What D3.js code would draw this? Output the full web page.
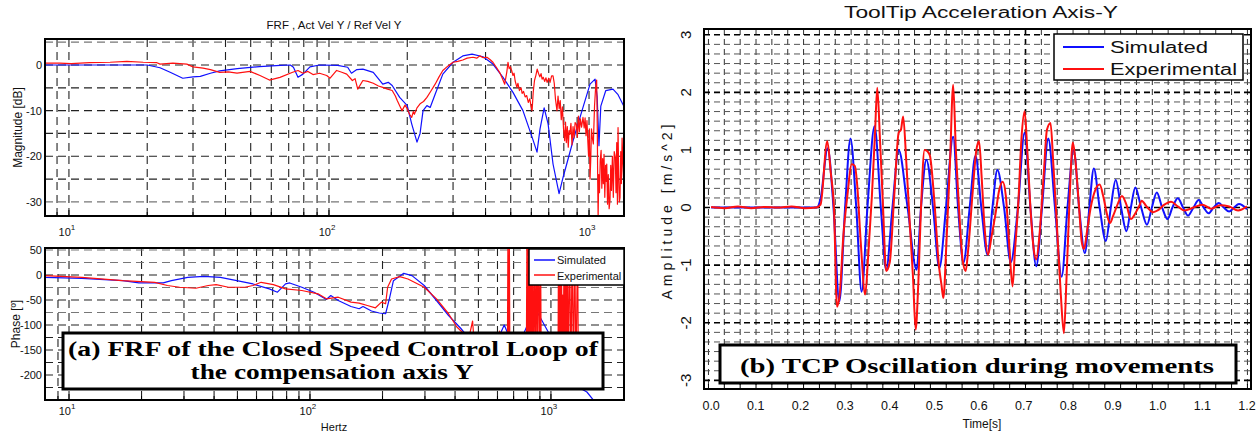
<!DOCTYPE html>
<html>
<head>
<meta charset="utf-8">
<script src="https://cdn.jsdelivr.net/npm/d3@7"></script>
<style>
  body { margin: 0; background: #fff; }
  svg { display: block; }
  text { font-family: "Liberation Sans", Arial, sans-serif; fill: #111; }
  .boxtxt { font-family: "Liberation Serif", "Times New Roman", serif; font-weight: bold; fill: #000; }
</style>
</head>
<body>
<div id="chart"></div>
<script>
// ---- FRF magnitude (Hz, dB) ----
const magSimF  = [8.1, 20, 22.4, 24.5, 27.4, 30, 32, 35, 38, 44.4, 54, 65, 71, 73, 76, 79.4, 84.5, 92, 108, 118, 122, 128, 135, 148, 161, 169, 175, 187, 200, 208, 218, 224, 230, 238, 245, 256, 274, 300, 327, 355, 391, 427, 467, 510, 557, 604, 631, 648, 672, 696, 727, 767, 795, 868, 948, 1009, 1055, 1075, 1092, 1110, 1160, 1236, 1293, 1363];
const magSimDb = [0, 0, -0.6, -1.6, -2.9, -2.6, -2.5, -1.8, -1.3, -0.8, -0.35, -0.1, 0, -0.5, -2.7, -2.0, -0.4, 0, -0.1, -0.5, -1.8, -1.0, -0.9, -1.6, -4.2, -3.8, -4.5, -7.1, -8.9, -12.9, -16.9, -15, -10, -8.9, -9.3, -6.4, -2, 0.6, 2.0, 2.4, 1.8, 0.2, -2.7, -6, -10, -15.8, -19.1, -14, -9.4, -12.9, -21.7, -28.2, -24.6, -16.6, -9.3, -4.2, -3.1, -7, -17.7, -9, -5.6, -5.3, -6.5, -9.1];

const magExpF  = [8.1, 9.2, 10.2, 12, 14.4, 16.7, 19.3, 21.8, 22.4, 25.1, 28.4, 30, 32.8, 35, 38, 41, 44.3, 49.7, 54.3, 59, 64.8, 72.5, 76, 79.4, 83, 86.8, 92, 98, 101, 107, 112, 117, 123, 126, 129, 135, 141, 148, 155, 161, 168, 175, 180, 183, 188, 191, 196, 200, 204, 208, 211, 213, 218, 224, 231, 238, 246, 256, 265, 274, 287, 300, 313, 327, 340, 358, 370, 380, 392, 405, 416, 427, 440, 453, 463, 474, 478, 483, 488, 493, 498, 504, 510, 515, 520, 528, 533, 540, 548, 553, 560, 568, 576, 584, 592, 598, 604, 610, 617, 625, 632, 639, 647, 654, 660, 667, 675, 683, 690, 700, 708, 718, 727, 735, 743, 753, 760, 768, 775, 782, 790, 798, 806, 812, 818, 825, 832, 838, 844, 852, 860, 868, 876, 884, 894, 902, 910, 918, 926, 936, 948, 958, 966, 974, 982, 990, 996, 1003, 1009, 1015, 1022, 1030, 1039, 1050, 1060, 1070, 1076, 1080, 1084, 1090, 1097, 1104, 1113, 1120, 1128, 1135, 1142, 1150, 1158, 1165, 1170, 1178, 1186, 1195, 1204, 1212, 1220, 1230, 1240, 1250, 1262, 1270, 1278, 1286, 1293, 1300, 1308, 1316, 1324, 1332, 1340, 1350, 1358, 1363];
const magExpDb = [0.4, 0.4, 0.3, 0.5, 0.6, 0.8, 0.6, 0.5, 0.2, 0.4, 0.2, -0.4, -0.7, -1.0, -1.6, -1.5, -1.8, -1.4, -2.3, -3.3, -2.7, -1.6, -1.2, -1.8, -1.4, -2.1, -1.8, -2.3, -2.9, -1.2, -1.6, -2.0, -3.4, -3.0, -5.3, -3.4, -3.6, -4.0, -4.6, -4.9, -5.3, -5.6, -6.8, -7.8, -9.2, -10, -8.8, -9.6, -10.8, -11.5, -10.2, -10.8, -9.4, -8.5, -8.0, -7.1, -5.8, -4.2, -2.6, -1.2, -0.2, 0.6, 0.8, 1.1, 1.5, 1.7, 1.5, 2.0, 1.6, 1.7, 1.2, 0.6, -0.5, -1.6, -2.8, -4.2, -3.0, -1.5, 0.6, -0.8, -0.4, -1.2, -2.3, -1.8, -3.5, -4.9, -4.0, -5.6, -5.0, -6.2, -5.8, -7.0, -6.7, -8.2, -7.4, -9.0, -10, -6, -3.4, -2.2, -0.9, -1.8, -2.6, -1.9, -3.1, -2.7, -3.6, -2.8, -3.8, -2.9, -3.8, -2.4, -2.4, -4.0, -7.5, -10, -6.8, -9.6, -7.8, -12, -9.2, -14, -16.6, -12.5, -17, -13.5, -18, -14.4, -15.2, -12.8, -17.5, -13.5, -16, -12.6, -13, -15.8, -11.2, -14.6, -11.8, -13.6, -11.5, -13.8, -11.6, -15.5, -12.2, -17, -20, -14, -25, -21, -14, -16, -17.3, -9, -5, -3.3, -14, -26, -33.5, -24, -28, -21, -18.7, -27, -20.5, -26, -19.6, -29, -22, -25.5, -21.7, -30.5, -24, -31.5, -29.7, -22, -27.5, -20, -29, -19, -20.2, -28, -17, -30.5, -13.7, -24, -30, -29, -19, -26, -16, -21.7, -25, -23];

// ---- FRF phase (Hz, deg) ----
const phSimF   = [7.95, 11.3, 16.7, 19.5, 24.6, 26.6, 31.1, 36.3, 42.5, 49.7, 58, 67.8, 73.3, 79.2, 82.4, 92.5, 104, 117, 122, 131, 148, 160, 166, 180, 194, 206, 214, 222, 245, 265, 298, 335, 376, 423, 457, 520, 600, 640, 680, 720, 766, 859, 990, 1050, 1200, 1410, 1523, 2010];
const phSimDeg = [-4.6, -6.6, -11.3, -15.9, -15.9, -11.3, -4.6, -2.6, -4.6, -11.3, -17.9, -27.8, -34.4, -17.9, -15.9, -24.5, -34.4, -49, -41, -51, -63, -67.5, -63, -72, -76, -77.5, -45.7, -11.3, 3.3, -1.3, -21, -51, -81, -107, -127, -160, -130, -100, -130, -160, -120, -66, -120, -170, -215, -234, -254, -300];

const phExpF   = [7.95, 11.3, 16.7, 22.7, 25.6, 28.8, 33.6, 37.8, 40.8, 45.9, 53.7, 58, 62.7, 70.5, 79.2, 92.5, 108, 117, 131, 148, 160, 173, 187, 198, 206, 210, 218, 236, 255, 298, 335, 376, 407, 430, 457, 473, 480, 500, 560, 600, 612, 620, 655, 660, 663, 667, 672, 676, 680, 700, 790, 795, 800, 806, 812, 818, 823, 830, 836, 842, 850, 858, 866, 874, 880, 888, 896, 905, 912, 1000, 1070, 1075, 1082, 1090, 1098, 1105, 1112, 1118, 1124, 1135, 1142, 1150, 1160, 1170, 1180, 1195, 1210, 1225, 1240, 1255, 1270, 1290, 1300, 1400];
const phExpDeg = [-1.3, -4.6, -11.3, -14.6, -21, -24.5, -26.5, -21, -19.2, -24.5, -24.5, -21, -14.6, -19.2, -27.8, -31, -37.7, -47.7, -44.4, -54.3, -56.3, -61, -65.6, -54.3, -57.6, -24.5, -8, -3.3, -8, -24.5, -47.7, -77.5, -104, -115, -125, -92, -135, -145, -155, -160, -112, -160, -180, -150, 80, -215, 80, -215, -170, -175, -200, 80, -215, 80, -215, 80, -215, 80, -215, 80, -215, 80, -215, 80, -120, 80, -215, 80, -200, -190, -180, 80, -215, 80, -215, 80, -150, -40, -170, 80, -215, 80, -215, 80, -215, 80, -215, 80, -215, 80, -215, 80, -215, -220];

// ---- tool tip acceleration (s, m/s^2) ----
const accSimT = [0, 0.1, 0.2, 0.236, 0.245, 0.261, 0.274, 0.287, 0.3, 0.312, 0.325, 0.337, 0.35, 0.366, 0.38, 0.392, 0.406, 0.42, 0.44, 0.46, 0.47, 0.482, 0.497, 0.511, 0.526, 0.542, 0.553, 0.565, 0.579, 0.592, 0.605, 0.619, 0.63, 0.641, 0.656, 0.671, 0.687, 0.702, 0.715, 0.728, 0.741, 0.755, 0.77, 0.785, 0.798, 0.812, 0.824, 0.837, 0.847, 0.857, 0.87, 0.884, 0.895, 0.906, 0.918, 0.93, 0.94, 0.95, 0.963, 0.976, 0.987, 0.998, 1.01, 1.022, 1.033, 1.045, 1.057, 1.068, 1.08, 1.092, 1.103, 1.114, 1.125, 1.137, 1.148, 1.16, 1.171, 1.182, 1.2];
const accSimA = [0, 0, 0, 0, 0.15, 1.03, 0, -1.63, 0, 1.2, 0, -1.46, 0, 1.41, 0, -1.08, 0, 1.0, 0, -1.08, 0, 0.83, 0, -1.05, 0, 1.23, 0, -0.96, 0, 0.9, 0, -0.82, 0, 0.65, 0, -0.95, 0, 1.3, 0, -1.02, 0, 1.2, 0, -1.2, 0, 1.0, 0, -0.79, 0, 0.68, 0, -0.58, 0, 0.48, 0, -0.41, 0, 0.35, 0, -0.3, 0, 0.26, 0, -0.2, 0, 0.16, 0, -0.14, 0, 0.13, 0, -0.1, 0, 0.08, 0, -0.07, 0, 0.06, -0.03];

const accExpT = [0, 0.03, 0.06, 0.09, 0.12, 0.15, 0.18, 0.21, 0.235, 0.245, 0.26, 0.268, 0.275, 0.282, 0.288, 0.296, 0.305, 0.315, 0.322, 0.327, 0.335, 0.345, 0.352, 0.36, 0.367, 0.372, 0.378, 0.385, 0.392, 0.4, 0.41, 0.42, 0.425, 0.43, 0.437, 0.445, 0.452, 0.458, 0.464, 0.47, 0.478, 0.485, 0.49, 0.5, 0.51, 0.516, 0.52, 0.527, 0.535, 0.542, 0.548, 0.555, 0.563, 0.57, 0.576, 0.585, 0.594, 0.6, 0.606, 0.612, 0.62, 0.628, 0.637, 0.645, 0.653, 0.66, 0.668, 0.675, 0.68, 0.688, 0.695, 0.702, 0.708, 0.715, 0.722, 0.728, 0.735, 0.745, 0.752, 0.76, 0.766, 0.775, 0.783, 0.79, 0.796, 0.803, 0.81, 0.816, 0.824, 0.83, 0.835, 0.842, 0.85, 0.86, 0.87, 0.878, 0.886, 0.893, 0.9, 0.91, 0.92, 0.93, 0.94, 0.95, 0.96, 0.964, 0.975, 0.99, 1.0, 1.015, 1.03, 1.045, 1.06, 1.08, 1.1, 1.12, 1.14, 1.16, 1.18, 1.2];
const accExpA = [0.01, -0.01, 0.02, -0.01, 0.01, 0, 0.02, -0.01, 0, 0.05, 1.15, 0.6, 0, -1.72, -1.5, -0.5, 0.2, 0.75, 0.72, 0.4, -0.6, -1.51, -0.8, 0.2, 1.3, 2.08, 1.2, 0, -1.1, -0.95, 0.2, 1.3, 1.35, 1.58, 0.8, -0.3, -1.2, -2.12, -1.3, 0, 1.0, 0.97, 0.9, 0.1, -1.0, -1.35, -1.57, -0.6, 0.8, 2.13, 1.0, 0, -0.9, -1.1, -0.7, 0.2, 1.0, 1.15, 0.5, -0.3, -0.82, -0.5, -0.1, 0.3, 0.45, 0.2, -0.7, -1.37, -0.8, 0.1, 1.2, 1.67, 1.0, 0, -0.7, -0.9, -0.5, 0.6, 1.35, 1.47, 0.8, -0.4, -1.5, -2.18, -1.2, 0.2, 1.13, 0.8, 0, -0.6, -0.72, -0.4, 0, 0.3, 0.4, 0.2, -0.1, -0.27, -0.15, 0.05, 0.2, 0.05, -0.2, -0.1, 0.05, 0.12, 0.02, -0.08, -0.05, 0.05, 0.1, 0.02, -0.05, 0, 0.05, -0.02, 0.04, 0.02, -0.05, 0.02];

const legendNames = ["Simulated", "Experimental"];
const seriesColors = ["#1010ff", "#ff1010"];
const magYTicks = [0, -10, -20, -30];
const phYTicks = [50, 0, -50, -100, -150, -200];
const accXTicks = [0, 0.1, 0.2, 0.3, 0.4, 0.5, 0.6, 0.7, 0.8, 0.9, 1.0, 1.1, 1.2];
const accYTicks = [3, 2, 1, 0, -1, -2, -3];

const W = 1258, H = 435;
const svg = d3.select("#chart").append("svg")
    .attr("width", W).attr("height", H);
svg.append("rect").attr("width", W).attr("height", H).attr("fill", "#fff");

const zip = (a, b) => a.map((v, i) => [v, b[i]]);

// log grid values 9,10,20..90,100,200..
function logGridValues(lo, hi) {
    let v = [];
    for (let d = 1; d <= 1000; d *= 10) {
        for (let k = 1; k <= 9; k++) {
            let f = k * d;
            if (f > lo * 1.01 && f < hi * 0.99) v.push(f);
        }
    }
    return v;
}

function drawLogPanel(cfg) {
    let x = d3.scaleLog().domain(cfg.xdom).range([cfg.left, cfg.right]);
    let y = d3.scaleLinear().domain(cfg.ydom).range([cfg.bottom, cfg.top]);
    let g = svg.append("g");
    let clipId = cfg.id + "clip";
    svg.append("clipPath").attr("id", clipId).append("rect")
        .attr("x", cfg.left).attr("y", cfg.top)
        .attr("width", cfg.right - cfg.left).attr("height", cfg.bottom - cfg.top);

    // grid
    g.selectAll(".vg").data(logGridValues(cfg.xdom[0], cfg.xdom[1])).enter()
        .append("line")
        .attr("x1", d => x(d)).attr("x2", d => x(d))
        .attr("y1", cfg.top).attr("y2", cfg.bottom)
        .attr("stroke", "#222").attr("stroke-width", 1.1)
        .attr("stroke-dasharray", "8,5");
    g.selectAll(".hg").data(cfg.hgrid).enter()
        .append("line")
        .attr("x1", cfg.left).attr("x2", cfg.right)
        .attr("y1", d => y(d)).attr("y2", d => y(d))
        .attr("stroke", d => cfg.grayGrid.includes(d) ? "#777" : "#222")
        .attr("stroke-width", 1.2)
        .attr("stroke-dasharray", "8,5");

    // minor ticks along the bottom
    let tv = logGridValues(cfg.xdom[0], cfg.xdom[1]);
    g.selectAll(".tb").data(tv).enter().append("line")
        .attr("x1", d => x(d)).attr("x2", d => x(d))
        .attr("y1", cfg.bottom).attr("y2", d => cfg.bottom - ([10, 100, 1000].includes(d) ? 6 : 4))
        .attr("stroke", "#000");

    // lines
    let line = d3.line().x(d => x(d[0])).y(d => y(d[1]));
    let lg = svg.append("g").attr("clip-path", "url(#" + clipId + ")");
    cfg.series.forEach((s, i) => {
        lg.append("path").datum(s)
            .attr("d", line)
            .attr("fill", "none")
            .attr("stroke", seriesColors[i])
            .attr("stroke-width", 1.2)
            .attr("stroke-linejoin", "round");
    });

    // frame
    svg.append("rect")
        .attr("x", cfg.left).attr("y", cfg.top)
        .attr("width", cfg.right - cfg.left).attr("height", cfg.bottom - cfg.top)
        .attr("fill", "none").attr("stroke", "#000").attr("stroke-width", 2);

    // x labels 10^n
    [10, 100, 1000].forEach(v => {
        let t = svg.append("text")
            .attr("x", x(v) - 2).attr("y", cfg.labelY)
            .attr("text-anchor", "middle")
            .style("font-size", "11px");
        t.append("tspan").text("10");
        t.append("tspan").attr("dy", -6).style("font-size", "8px").text(Math.log10(v));
    });

    // y labels
    svg.selectAll(null).data(cfg.yticks).enter().append("text")
        .attr("x", cfg.left - 3).attr("y", d => y(d) + 4)
        .attr("text-anchor", "end")
        .style("font-size", "11px")
        .text(d => d);

    svg.append("text")
        .attr("transform", "translate(" + cfg.ylabelX + "," + ((cfg.top + cfg.bottom) / 2) + ") rotate(-90)")
        .attr("text-anchor", "middle")
        .style("font-size", "12px")
        .text(cfg.ylabel);
    return {x, y};
}

// ---- left: magnitude ----
drawLogPanel({
    id: "mag", left: 45, right: 624, top: 39, bottom: 216,
    xdom: [8.09, 1363], ydom: [-33.1, 5.7],
    hgrid: [5, 0, -5, -10, -15, -20, -25, -30], grayGrid: [5, -30],
    series: [zip(magSimF, magSimDb), zip(magExpF, magExpDb)],
    labelY: 236, yticks: magYTicks, ylabel: "Magnitude [dB]", ylabelX: 22
});

svg.append("text")
    .attr("x", 334).attr("y", 29)
    .attr("text-anchor", "middle")
    .style("font-size", "11.5px")
    .text("FRF , Act Vel Y / Ref Vel Y");

// ---- left: phase ----
drawLogPanel({
    id: "ph", left: 45, right: 624, top: 248, bottom: 400,
    xdom: [7.95, 2010], ydom: [-250, 54],
    hgrid: [50, 25, 0, -25, -50, -75, -100, -125, -150, -175, -200, -225], grayGrid: [50, 25, -25, -75],
    series: [zip(phSimF, phSimDeg), zip(phExpF, phExpDeg)],
    labelY: 415, yticks: phYTicks, ylabel: "Phase [º]", ylabelX: 20
});

svg.append("text")
    .attr("x", 334).attr("y", 431)
    .attr("text-anchor", "middle")
    .style("font-size", "11px")
    .text("Hertz");

// phase legend
let lgp = svg.append("g");
lgp.append("rect").attr("x", 529).attr("y", 249).attr("width", 95).attr("height", 36)
    .attr("fill", "#fff").attr("stroke", "#000").attr("stroke-width", 1.5);
legendNames.forEach((n, i) => {
    lgp.append("line").attr("x1", 534).attr("x2", 555)
        .attr("y1", 260 + i * 15).attr("y2", 260 + i * 15)
        .attr("stroke", seriesColors[i]).attr("stroke-width", 1.5);
    lgp.append("text").attr("x", 557).attr("y", 264 + i * 16)
        .style("font-size", "11px").text(n);
});

// caption box (a)
svg.append("rect").attr("x", 63).attr("y", 333).attr("width", 540).attr("height", 56)
    .attr("fill", "#fff").attr("stroke", "#000").attr("stroke-width", 3);
svg.append("text").attr("class", "boxtxt")
    .attr("x", 333).attr("y", 356).attr("text-anchor", "middle")
    .attr("textLength", 530).attr("lengthAdjust", "spacingAndGlyphs")
    .style("font-size", "20px")
    .text("(a) FRF of the Closed Speed Control Loop of");
svg.append("text").attr("class", "boxtxt")
    .attr("x", 332).attr("y", 379).attr("text-anchor", "middle")
    .attr("textLength", 283).attr("lengthAdjust", "spacingAndGlyphs")
    .style("font-size", "20px")
    .text("the compensation axis Y");

// ---- right: tool tip acceleration ----
const R = {left: 704, right: 1251, top: 29, bottom: 389};
const xr = d3.scaleLinear().domain([-0.016, 1.209]).range([R.left, R.right]);
const yr = d3.scaleLinear().domain([-3.15, 3.1]).range([R.bottom, R.top]);

svg.append("clipPath").attr("id", "accclip").append("rect")
    .attr("x", R.left).attr("y", R.top)
    .attr("width", R.right - R.left).attr("height", R.bottom - R.top);

let vgrid = d3.range(0, 35).map(k => -0.006 + k * 0.0355).filter(t => xr(t) < R.right - 2);
let hgrid = d3.range(-18, 19).map(k => k / 6).filter(v => v > -3.15 && v < 3.1);

let gr = svg.append("g");
gr.selectAll(null).data(vgrid).enter().append("line")
    .attr("x1", d => xr(d)).attr("x2", d => xr(d))
    .attr("y1", R.top).attr("y2", R.bottom)
    .attr("stroke", (d, i) => i === 20 ? "#000" : "#333")
    .attr("stroke-width", (d, i) => i === 20 ? 1.6 : 1)
    .attr("stroke-dasharray", "6,4");
gr.selectAll(null).data(hgrid).enter().append("line")
    .attr("x1", R.left).attr("x2", R.right)
    .attr("y1", d => yr(d)).attr("y2", d => yr(d))
    .attr("stroke", d => Math.abs(d - Math.round(d)) < 1e-6 ? "#000" : "#555")
    .attr("stroke-width", d => Math.abs(d - Math.round(d)) < 1e-6 ? 1.6 : 1)
    .attr("stroke-dasharray", "6,4");
gr.selectAll(null).data(vgrid).enter().append("line")
    .attr("x1", d => xr(d)).attr("x2", d => xr(d))
    .attr("y1", R.bottom).attr("y2", R.bottom - 5)
    .attr("stroke", "#000");

let accLine = d3.line().x(d => xr(d[0])).y(d => yr(d[1])).curve(d3.curveMonotoneX);
let ag = svg.append("g").attr("clip-path", "url(#accclip)");
[zip(accSimT, accSimA), zip(accExpT, accExpA)].forEach((s, i) => {
    ag.append("path").datum(s)
        .attr("d", accLine)
        .attr("fill", "none")
        .attr("stroke", seriesColors[i])
        .attr("stroke-width", 2)
        .attr("stroke-linejoin", "round");
});

svg.append("rect")
    .attr("x", R.left).attr("y", R.top)
    .attr("width", R.right - R.left).attr("height", R.bottom - R.top)
    .attr("fill", "none").attr("stroke", "#000").attr("stroke-width", 2);

svg.selectAll(null).data(accXTicks).enter().append("text")
    .attr("x", d => xr(d)).attr("y", 410)
    .attr("text-anchor", "middle")
    .style("font-size", "12.5px")
    .text(d => d.toFixed(1));

svg.selectAll(null).data(accYTicks).enter().append("text")
    .attr("transform", d => "translate(691," + yr(d) + ") rotate(-90)")
    .attr("text-anchor", "middle")
    .style("font-size", "15px")
    .text(d => d);

svg.append("text")
    .attr("transform", "translate(672,212) rotate(-90)")
    .attr("text-anchor", "middle")
    .attr("textLength", 175).attr("lengthAdjust", "spacing")
    .style("font-size", "14px")
    .text("Amplitude [m/s^2]");

svg.append("text")
    .attr("x", 982).attr("y", 428)
    .attr("text-anchor", "middle")
    .style("font-size", "12px")
    .text("Time[s]");

svg.append("text")
    .attr("x", 981).attr("y", 18)
    .attr("text-anchor", "middle")
    .attr("textLength", 274).attr("lengthAdjust", "spacingAndGlyphs")
    .style("font-size", "16px")
    .text("ToolTip Acceleration Axis-Y");

// right legend
let lgr = svg.append("g");
lgr.append("rect").attr("x", 1054).attr("y", 34).attr("width", 189).attr("height", 46)
    .attr("fill", "#fff").attr("stroke", "#000").attr("stroke-width", 1.5);
legendNames.forEach((n, i) => {
    lgr.append("line").attr("x1", 1063).attr("x2", 1104)
        .attr("y1", 47 + i * 22).attr("y2", 47 + i * 22)
        .attr("stroke", seriesColors[i]).attr("stroke-width", 2);
    lgr.append("text").attr("x", 1110).attr("y", 53 + i * 22)
        .attr("textLength", i === 0 ? 98 : 127).attr("lengthAdjust", "spacingAndGlyphs")
        .style("font-size", "16px").text(n);
});

// caption box (b)
svg.append("rect").attr("x", 720).attr("y", 345).attr("width", 516).attr("height", 38)
    .attr("fill", "#fff").attr("stroke", "#000").attr("stroke-width", 3);
svg.append("text").attr("class", "boxtxt")
    .attr("x", 977).attr("y", 373).attr("text-anchor", "middle")
    .attr("textLength", 474).attr("lengthAdjust", "spacingAndGlyphs")
    .style("font-size", "22px")
    .text("(b) TCP Oscillation during movements");
</script>
</body>
</html>
